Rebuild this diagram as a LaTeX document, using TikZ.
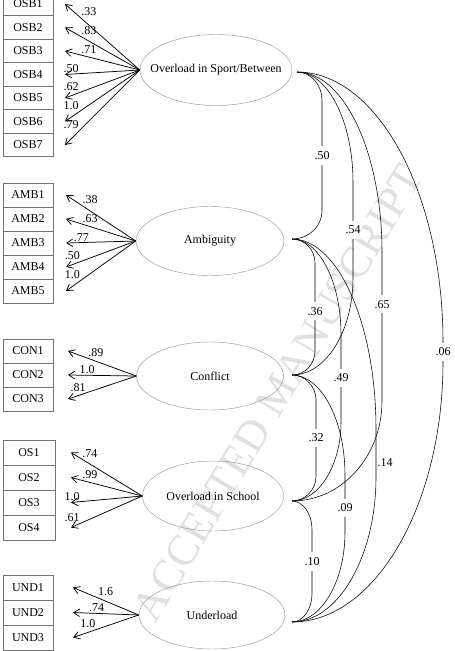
\documentclass[tikz,border=0pt]{standalone}
\usepackage{fontspec}
\setmainfont{Liberation Serif}
\usetikzlibrary{arrows.meta, positioning, shapes.geometric}
\definecolor{boxline}{gray}{0.45}
\definecolor{ellline}{gray}{0.6}
\definecolor{wmark}{gray}{0.88}

\begin{document}
\begin{tikzpicture}[
    x=1pt, y=-1pt,
    font=\fontsize{12}{14}\selectfont,
    itembox/.style={
        draw=boxline, line width=0.6pt, minimum width=50pt,
        minimum height=23.5pt, inner sep=0pt, outer sep=0pt
    },
    factor/.style={
        ellipse, draw=ellline, line width=0.45pt, inner sep=0pt
    },
    loadarrow/.style={
        draw=black, line width=0.75pt,
        -{Straight Barb[length=6pt, width=7.5pt]}
    },
    loadlab/.style={auto=right, inner sep=1pt, pos=#1},
    loadlab/.default=0.8,
    covline/.style={draw=black, line width=0.55pt},
    covlab/.style={fill=white, inner xsep=1pt, inner ysep=5pt}
]

% ---- page size in pixels of the original figure ----
\useasboundingbox (0,0) rectangle (455,651);

% ---- faint stamp behind the model ----
\node[text=wmark, rotate=59, font=\fontsize{44}{48}\selectfont] (stamp)
     at (278,393) {ACCEPTED MANUSCRIPT};

% ---- observed items (left column) ----
\node[itembox] (osb1) at (28,4) {OSB1};
\node[itembox, below=0pt of osb1] (osb2) {OSB2};
\node[itembox, below=0pt of osb2] (osb3) {OSB3};
\node[itembox, below=0pt of osb3] (osb4) {OSB4};
\node[itembox, below=0pt of osb4] (osb5) {OSB5};
\node[itembox, below=0pt of osb5] (osb6) {OSB6};
\node[itembox, below=0pt of osb6] (osb7) {OSB7};

\node[itembox, minimum height=24pt] (amb1) at (28,195) {AMB1};
\node[itembox, minimum height=24pt, below=0pt of amb1] (amb2) {AMB2};
\node[itembox, minimum height=24pt, below=0pt of amb2] (amb3) {AMB3};
\node[itembox, minimum height=24pt, below=0pt of amb3] (amb4) {AMB4};
\node[itembox, minimum height=24pt, below=0pt of amb4] (amb5) {AMB5};

\node[itembox, minimum height=24pt] (con1) at (28,351) {CON1};
\node[itembox, minimum height=24pt, below=0pt of con1] (con2) {CON2};
\node[itembox, minimum height=24pt, below=0pt of con2] (con3) {CON3};

\node[itembox, minimum width=52pt, minimum height=25pt] (os1) at (29,452.5) {OS1};
\node[itembox, minimum width=52pt, minimum height=25pt, below=0pt of os1] (os2) {OS2};
\node[itembox, minimum width=52pt, minimum height=25pt, below=0pt of os2] (os3) {OS3};
\node[itembox, minimum width=52pt, minimum height=25pt, below=0pt of os3] (os4) {OS4};

\node[itembox, minimum height=25pt] (und1) at (28,587.5) {UND1};
\node[itembox, minimum height=25pt, below=0pt of und1] (und2) {UND2};
\node[itembox, minimum height=25pt, below=0pt of und2] (und3) {UND3};

% ---- latent factors ----
\node[factor, minimum width=152pt, minimum height=71pt,
      label=center:{Overload in Sport/Between}] (sport) at (216,70) {};
\node[factor, minimum width=148pt, minimum height=69pt,
      label=center:{Ambiguity}] (ambig) at (210,241) {};
\node[factor, minimum width=147pt, minimum height=68pt,
      label=center:{Conflict}] (confl) at (210,376) {};
\node[factor, minimum width=141pt, minimum height=70pt,
      label=center:{Overload in School}] (school) at (213,496) {};
\node[factor, minimum width=146pt, minimum height=68pt,
      label=center:{Underload}] (under) at (212,615) {};

% ---- loadings: tips stop short of the boxes ----
\draw[loadarrow] (sport.west) -- node[loadlab] {.33} ([xshift=12pt]osb1.east);
\draw[loadarrow] (sport.west) -- node[loadlab] {.83} ([xshift=12pt]osb2.east);
\draw[loadarrow] (sport.west) -- node[loadlab] {.71} ([xshift=12pt]osb3.east);
\draw[loadarrow] (sport.west) -- node[loadlab] {.50} ([xshift=12pt]osb4.east);
\draw[loadarrow] (sport.west) -- node[loadlab] {.62} ([xshift=12pt]osb5.east);
\draw[loadarrow] (sport.west) -- node[loadlab] {1.0} ([xshift=12pt]osb6.east);
\draw[loadarrow] (sport.west) -- node[loadlab] {.79} ([xshift=12pt]osb7.east);

\draw[loadarrow] (ambig.west) -- node[loadlab=0.78] {.38} ([xshift=13pt]amb1.east);
\draw[loadarrow] (ambig.west) -- node[loadlab=0.78] {.63} ([xshift=13pt]amb2.east);
\draw[loadarrow] (ambig.west) -- node[loadlab=0.78] {.77} ([xshift=13pt]amb3.east);
\draw[loadarrow] (ambig.west) -- node[loadlab=0.78] {.50} ([xshift=13pt]amb4.east);
\draw[loadarrow] (ambig.west) -- node[loadlab=0.78] {1.0} ([xshift=13pt]amb5.east);

\draw[loadarrow] (confl.west) -- node[loadlab=0.72] {.89} ([xshift=15pt]con1.east);
\draw[loadarrow] (confl.west) -- node[loadlab=0.72] {1.0} ([xshift=15pt]con2.east);
\draw[loadarrow] (confl.west) -- node[loadlab=0.72] {.81} ([xshift=15pt]con3.east);

\draw[loadarrow] (school.west) -- node[loadlab=0.86] {.74} ([xshift=16pt]os1.east);
\draw[loadarrow] (school.west) -- node[loadlab=0.86] {.99} ([xshift=16pt]os2.east);
\draw[loadarrow] (school.west) -- node[loadlab=0.86] {1.0} ([xshift=16pt]os3.east);
\draw[loadarrow] (school.west) -- node[loadlab=0.86] {.61} ([xshift=16pt]os4.east);

\draw[loadarrow] (under.west) -- node[loadlab=0.64] {1.6} ([xshift=20pt]und1.east);
\draw[loadarrow] (under.west) -- node[loadlab=0.64] {.74} ([xshift=20pt]und2.east);
\draw[loadarrow] (under.west) -- node[loadlab=0.64] {1.0} ([xshift=20pt]und3.east);

% ---- correlations between factors (right side) ----
\coordinate (sportR)  at (297,72);
\coordinate (ambigR)  at (292,239);
\coordinate (conflR)  at (292,375);
\coordinate (schoolR) at (292,501);
\coordinate (underR)  at (292,622);

\draw[covline] (sportR) .. controls +(14,0) and +(0,-15) .. (322,100)
    -- node[covlab] {.50} (322,211)
    .. controls +(0,15) and +(17,0) .. (ambigR);
\draw[covline] (sportR) .. controls +(31,0) and +(0,-60) .. (353,182)
    -- node[covlab] {.54} (353,278)
    .. controls +(0,53) and +(34,0) .. (conflR);
\draw[covline] (sportR) .. controls +(47,0) and +(0,-99) .. (382,252)
    -- node[covlab, pos=0.35] {.65} (382,401)
    .. controls +(0,55) and +(50,0) .. (schoolR);
\draw[covline] (sportR) .. controls +(80,0) and +(0,-149) .. (443,342)
    -- node[covlab] {.06} (443,362)
    .. controls +(0,143) and +(83,0) .. (underR);

\draw[covline] (ambigR) .. controls +(13,0) and +(0,-13) .. (315,263)
    -- node[covlab, pos=0.55] {.36} (315,351)
    .. controls +(0,13) and +(13,0) .. (conflR);
\draw[covline] (ambigR) .. controls +(27,0) and +(0,-52) .. (341,334)
    -- node[covlab] {.49} (341,422)
    .. controls +(0,43) and +(27,0) .. (schoolR);
\draw[covline] (ambigR) .. controls +(46,0) and +(0,-105) .. (376,429)
    -- node[covlab, pos=0.7, xshift=9pt] {.14} (376,477)
    .. controls +(0,80) and +(46,0) .. (underR);

\draw[covline] (conflR) .. controls +(13,0) and +(0,-14) .. (316,400)
    -- node[covlab] {.32} (316,476)
    .. controls +(0,14) and +(13,0) .. (schoolR);
\draw[covline] (conflR) .. controls +(29,0) and +(0,-55) .. (345,475)
    -- node[covlab, pos=0.58] {.09} (345,532)
    .. controls +(0,50) and +(29,0) .. (underR);

\draw[covline] (schoolR) .. controls +(11,0) and +(0,-15) .. (312,529)
    -- node[covlab] {.10} (312,594)
    .. controls +(0,15) and +(11,0) .. (underR);

\end{tikzpicture}
\end{document}
